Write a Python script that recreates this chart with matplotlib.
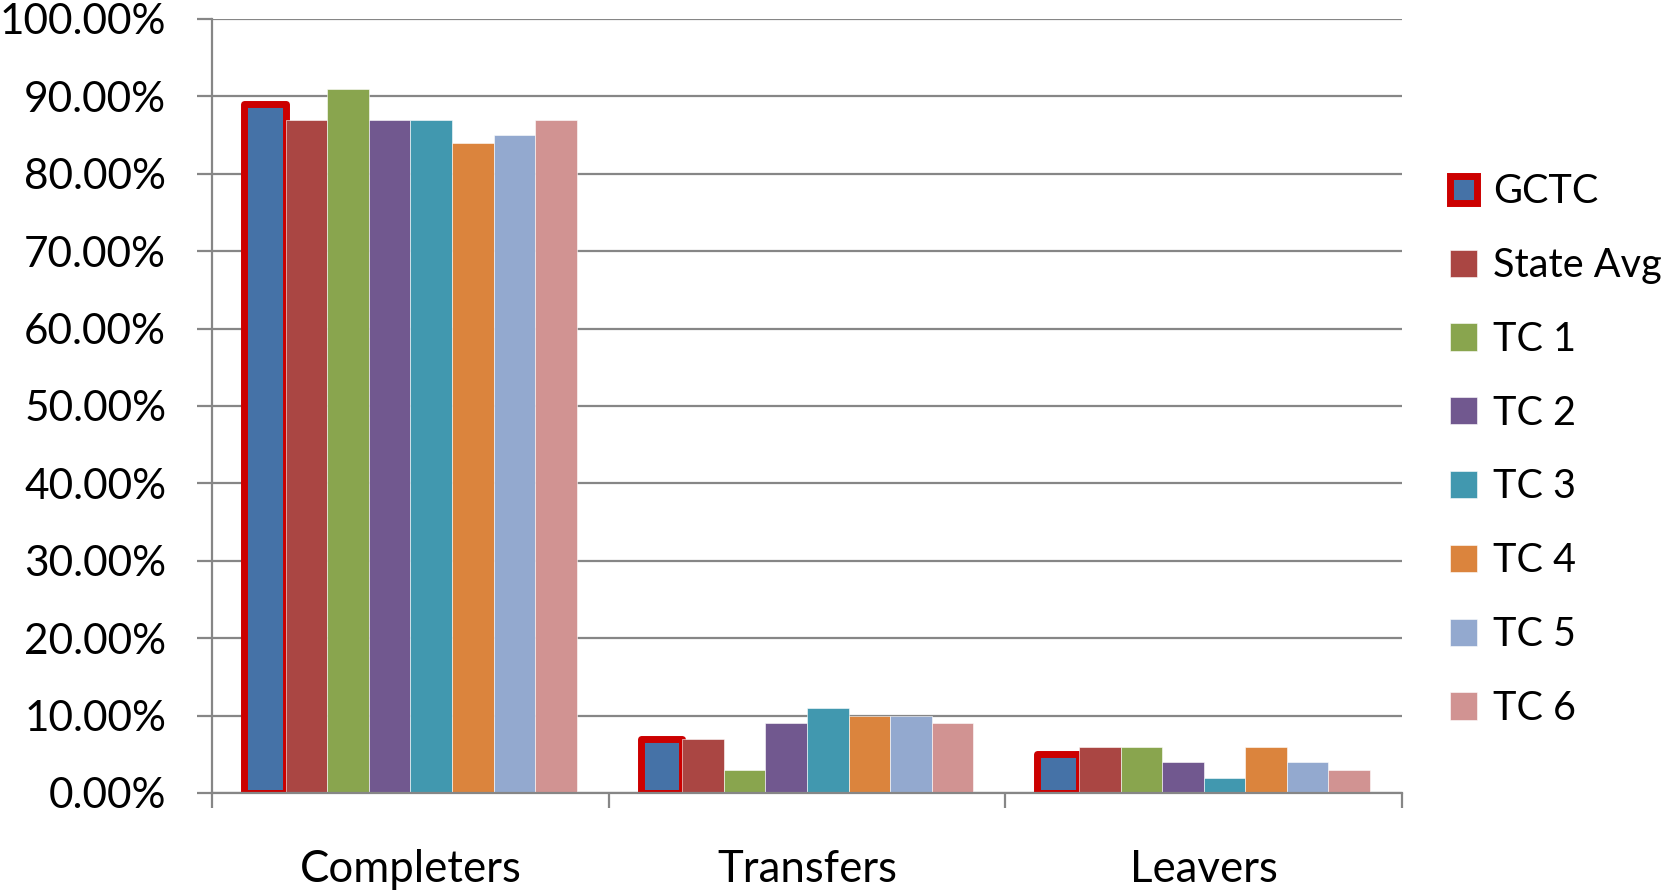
import numpy as np
import matplotlib
matplotlib.use('Agg')
import matplotlib.pyplot as plt
from matplotlib.ticker import FixedLocator, FuncFormatter

# Datenreihen (Anteile in %)
categories = ['Completers', 'Transfers', 'Leavers']
series = ['GCTC', 'State Avg', 'TC 1', 'TC 2', 'TC 3', 'TC 4', 'TC 5', 'TC 6']
gctc = [89, 7, 5]
state_avg = [87, 7, 6]
tc1 = [91, 3, 6]
tc2 = [87, 9, 4]
tc3 = [87, 11, 2]
tc4 = [84, 10, 6]
tc5 = [85, 10, 4]
tc6 = [87, 9, 3]
values = [gctc, state_avg, tc1, tc2, tc3, tc4, tc5, tc6]
colors = ['#4572A7', '#AA4643', '#89A54E', '#71588F',
          '#4198AF', '#DB843D', '#93A9CF', '#D19392']

plt.rcParams['font.family'] = ['Lato', 'DejaVu Sans']

fig = plt.figure(figsize=(16.71, 8.90), dpi=100)
ax = fig.add_axes([0.1269, 0.109, 0.839 - 0.1269, 0.9787 - 0.109])

n = len(series)
bw = 0.1048
start = (1 - n * bw) / 2
x = np.arange(len(categories))

for i, (name, vals, col) in enumerate(zip(series, values, colors)):
    pos = x + start + i * bw + bw / 2
    if name == 'GCTC':
        ax.bar(pos, vals, width=bw, color=col, edgecolor='#CC0000',
               linewidth=5, joinstyle='round', label=name, zorder=2)
    else:
        ax.bar(pos, vals, width=bw, color=col, edgecolor='white',
               linewidth=0.4, label=name, zorder=2)

ax.set_xlim(0, 3)
ax.set_ylim(0, 100)
ax.set_yticks(np.arange(0, 101, 10))
ax.yaxis.set_major_formatter(FuncFormatter(lambda v, p: f'{v:.2f}%'))
ax.grid(axis='y', color='#868686', linewidth=1.6, zorder=0)
ax.set_axisbelow(True)

# Kategorien zwischen den Trennstrichen beschriften
ax.xaxis.set_major_locator(FixedLocator([0, 1, 2, 3]))
ax.xaxis.set_minor_locator(FixedLocator([0.5, 1.5, 2.5]))
ax.xaxis.set_major_formatter(FuncFormatter(lambda v, p: ''))
ax.set_xticklabels(categories, minor=True)
ax.tick_params(axis='x', which='major', length=11, width=1.6, color='#868686')
ax.tick_params(axis='x', which='minor', length=0, pad=40, labelsize=31.5)
ax.tick_params(axis='y', length=11, width=1.6, color='#868686', pad=22, labelsize=30.5)

for s in ['top', 'right']:
    ax.spines[s].set_visible(False)
for s in ['left', 'bottom']:
    ax.spines[s].set_color('#868686')
    ax.spines[s].set_linewidth(1.6)

ax.legend(loc='center left', bbox_to_anchor=(1.027, 0.443), frameon=False,
          fontsize=28.5, handlelength=0.68, handleheight=0.68, handletextpad=0.4,
          labelspacing=0.93, borderaxespad=0)

fig.savefig('out.png', dpi=100)
